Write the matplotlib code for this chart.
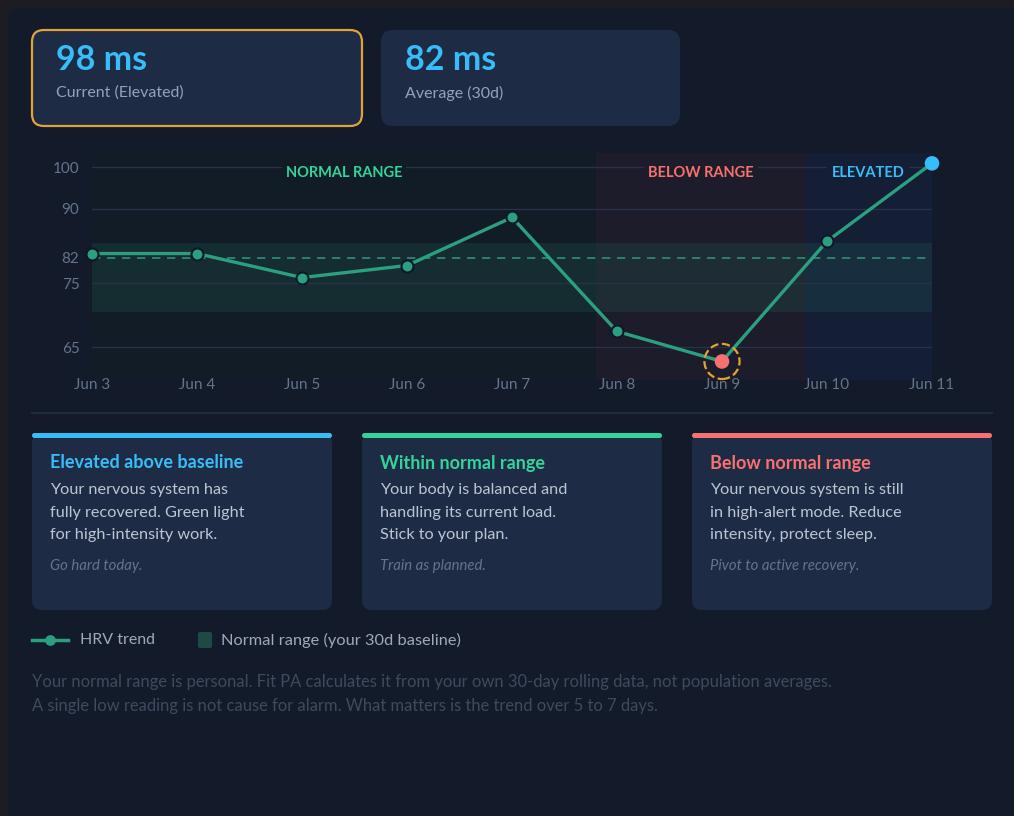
import numpy as np
import matplotlib
matplotlib.use("Agg")
import matplotlib.pyplot as plt
from matplotlib import font_manager
from matplotlib.patches import FancyBboxPatch

# pick a narrow face if there is one, the reference text is condensed
installed = {f.name for f in font_manager.fontManager.ttflist}
FONT = 'Liberation Sans Narrow' if 'Liberation Sans Narrow' in installed else 'Lato'
plt.rcParams['font.family'] = [FONT, 'DejaVu Sans']

# --- data ---
days = ['Jun 3', 'Jun 4', 'Jun 5', 'Jun 6', 'Jun 7', 'Jun 8', 'Jun 9', 'Jun 10', 'Jun 11']
hrv = [82.7, 82.7, 76.6, 79.9, 88.6, 67.5, 62.8, 84.7, 101.0]
baseline = 82
range_low, range_high = 70.6, 84.4
ytick_vals = [65, 75, 82, 90, 100]
grid_vals = [65, 75, 90, 100]

zone_names = ['NORMAL RANGE', 'BELOW RANGE', 'ELEVATED']
zone_edges = [0, 4.8, 6.8, 8]
zone_label_x = [2.4, 5.8, 7.39]

stat_values = ['98 ms', '82 ms']
stat_labels = ['Current (Elevated)', 'Average (30d)']

card_titles = ['Elevated above baseline', 'Within normal range', 'Below normal range']
card_bodies = [
    ['Your nervous system has', 'fully recovered. Green light', 'for high-intensity work.'],
    ['Your body is balanced and', 'handling its current load.', 'Stick to your plan.'],
    ['Your nervous system is still', 'in high-alert mode. Reduce', 'intensity, protect sleep.'],
]
card_notes = ['Go hard today.', 'Train as planned.', 'Pivot to active recovery.']

legend_labels = ['HRV trend', 'Normal range (your 30d baseline)']
footer = [
    'Your normal range is personal. Fit PA calculates it from your own 30-day rolling data, not population averages.',
    'A single low reading is not cause for alarm. What matters is the trend over 5 to 7 days.',
]

# --- colours ---
OUTER = '#1b1d22'
PANEL = '#131a29'
CARD = '#1e2b45'
BLUE = '#38bdf8'
GREEN = '#34d399'
RED = '#f87171'
ORANGE = '#e3a234'
LINE = '#2ba07f'
TICK = '#64748b'
zone_colors = ['#121c27', '#1c1c2a', '#141e34']
zone_text = [GREEN, RED, BLUE]
accents = [BLUE, GREEN, RED]

fig = plt.figure(figsize=(10.14, 8.16), dpi=100, facecolor=OUTER)

# background layer in pixel coordinates (y down)
bg = fig.add_axes([0, 0, 1, 1])
bg.set_xlim(0, 1014)
bg.set_ylim(816, 0)
bg.axis('off')
bg.add_patch(FancyBboxPatch((8, 8), 1040, 840, boxstyle='round,pad=0,rounding_size=14',
                            fc=PANEL, ec='none'))

# top stat cards
for i, (val, lab) in enumerate(zip(stat_values, stat_labels)):
    x0 = [32, 381][i]
    w = [330, 299][i]
    bg.add_patch(FancyBboxPatch((x0, 30), w, 96, boxstyle='round,pad=0,rounding_size=12',
                                fc=CARD, ec=ORANGE if i == 0 else 'none', lw=1.6))
    bg.text(x0 + 24, 60, val, fontsize=24.5, weight='bold', color=BLUE, va='center')
    bg.text(x0 + 24, 93, lab, fontsize=11.5, color='#94a3b8', va='center')

# --- chart ---
# the reference axis is not evenly spaced: map values to the pixel rows used there
knot_v = np.array([55, 65, 75, 82, 90, 100, 110])
knot_px = np.array([411.3, 347.3, 283.3, 257.7, 208.7, 167.3, 125.9])


def fwd(v):
    return -np.interp(v, knot_v, knot_px)


def inv(p):
    return np.interp(p, -knot_px, knot_v)


ax = fig.add_axes([92 / 1014, 1 - 380 / 816, 840 / 1014, 227 / 816])
ax.set_facecolor('none')
ax.set_yscale('function', functions=(fwd, inv))
ax.set_xlim(0, 8)
ax.set_ylim(59.9, 103.5)

for i in range(3):
    ax.axvspan(zone_edges[i], zone_edges[i + 1], color=zone_colors[i], lw=0, zorder=0)
ax.axhspan(range_low, range_high, color=GREEN, alpha=0.09, lw=0, zorder=1)
for v in grid_vals:
    ax.axhline(v, color='#273247', lw=1, zorder=1)
ax.axhline(baseline, color='#2f8f78', lw=1.2, ls=(0, (5, 4)), zorder=2)

for i in range(3):
    ax.text(zone_label_x[i], 98.6, zone_names[i], ha='center', va='center', fontsize=10.5,
            weight='bold', color=zone_text[i], zorder=3,
            bbox=dict(fc=zone_colors[i], ec='none', pad=3))

x = np.arange(len(days))
ax.plot(x, hrv, color=LINE, lw=2.4, zorder=4, clip_on=False)
low = int(np.argmin(hrv))
normal = [i for i in range(len(hrv) - 1) if i != low]
ax.scatter(x[normal], np.array(hrv)[normal], s=75, fc=LINE, ec='#0f172a', lw=1.5,
           zorder=5, clip_on=False)
ax.scatter(x[-1], hrv[-1], s=110, fc=BLUE, ec='none', zorder=5, clip_on=False)
ax.scatter(x[low], hrv[low], s=110, fc=RED, ec='none', zorder=5, clip_on=False)
ax.scatter(x[low], hrv[low], s=640, fc='none', ec=ORANGE, lw=1.6, linestyle='--',
           zorder=5, clip_on=False)

ax.set_xticks(x, days)
ax.set_yticks(ytick_vals, [str(v) for v in ytick_vals])
ax.yaxis.set_minor_locator(matplotlib.ticker.NullLocator())
ax.tick_params(axis='both', length=0, colors=TICK, labelsize=11)
ax.tick_params(axis='x', pad=-1.5)
ax.tick_params(axis='y', pad=9)
for s in ax.spines.values():
    s.set_visible(False)

# divider
bg.plot([32, 992], [413, 413], color='#1f2a3d', lw=1.5)

# explanation cards
for i in range(3):
    x0 = 32 + 330 * i
    bg.add_patch(FancyBboxPatch((x0, 433), 300, 177, boxstyle='round,pad=0,rounding_size=10',
                                fc=CARD, ec='none'))
    bg.add_patch(FancyBboxPatch((x0, 433), 300, 5, boxstyle='round,pad=0,rounding_size=2.5',
                                fc=accents[i], ec='none'))
    bg.text(x0 + 18, 463, card_titles[i], fontsize=13, weight='bold', color=accents[i], va='center')
    for j, line in enumerate(card_bodies[i]):
        bg.text(x0 + 18, 490 + 22.5 * j, line, fontsize=11.7, color='#bcc5d2', va='center')
    bg.text(x0 + 18, 566, card_notes[i], fontsize=10.7, style='italic', color=TICK, va='center')

# legend
bg.plot([32, 68], [640, 640], color=LINE, lw=2.5)
bg.scatter([50], [640], s=45, color=LINE, zorder=3)
bg.text(80, 640, legend_labels[0], fontsize=11.5, color='#a0aab8', va='center')
bg.add_patch(FancyBboxPatch((198, 632), 14, 16, boxstyle='round,pad=0,rounding_size=2',
                            fc='#1e4a45', ec='none'))
bg.text(221, 640, legend_labels[1], fontsize=11.8, color='#a0aab8', va='center')

# footer note
for j, line in enumerate(footer):
    bg.text(32, 682 + 24 * j, line, fontsize=11.9, color='#3f4a5e', va='center')

fig.savefig('out.png', dpi=100, facecolor=OUTER)
